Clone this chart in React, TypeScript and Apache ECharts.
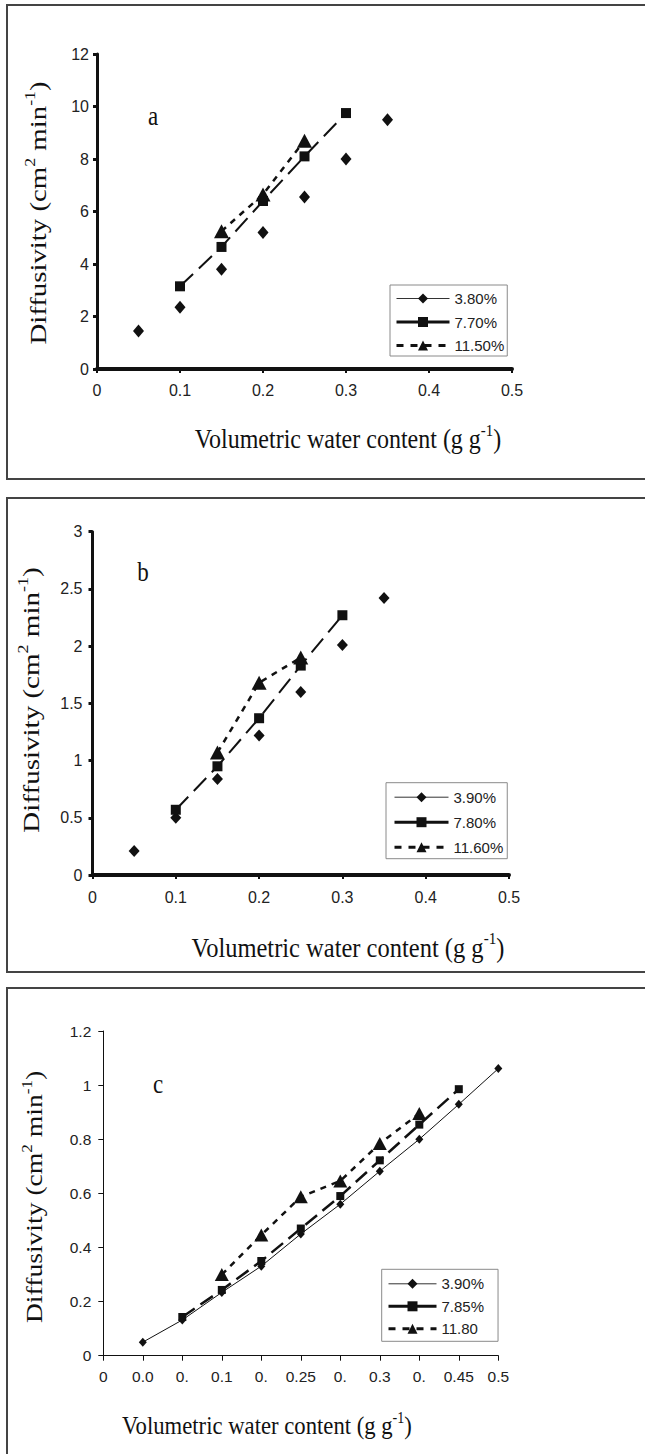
import React, { useEffect, useRef } from 'react';
import * as echarts from 'echarts';

// ---------- data ----------
// Panel a
const xA1 = [0.05, 0.1, 0.15, 0.2, 0.25, 0.3, 0.35];
const yA1 = [1.45, 2.35, 3.8, 5.2, 6.55, 8.0, 9.5];
const xA2 = [0.1, 0.15, 0.2, 0.25, 0.3];
const yA2 = [3.15, 4.65, 6.4, 8.1, 9.75];
const xA3 = [0.15, 0.2, 0.25];
const yA3 = [5.25, 6.65, 8.7];
const namesA = ['3.80%', '7.70%', '11.50%'];

// Panel b
const xB1 = [0.05, 0.1, 0.15, 0.2, 0.25, 0.3, 0.35];
const yB1 = [0.21, 0.5, 0.84, 1.22, 1.6, 2.01, 2.42];
const xB2 = [0.1, 0.15, 0.2, 0.25, 0.3];
const yB2 = [0.57, 0.95, 1.37, 1.83, 2.27];
const xB3 = [0.15, 0.2, 0.25];
const yB3 = [1.07, 1.68, 1.9];
const namesB = ['3.90%', '7.80%', '11.60%'];

// Panel c
const xC1 = [0.05, 0.1, 0.15, 0.2, 0.25, 0.3, 0.35, 0.4, 0.45, 0.5];
const yC1 = [0.05, 0.132, 0.234, 0.331, 0.45, 0.56, 0.682, 0.8, 0.929, 1.061];
const xC2 = [0.1, 0.15, 0.2, 0.25, 0.3, 0.35, 0.4, 0.45];
const yC2 = [0.143, 0.243, 0.35, 0.47, 0.59, 0.722, 0.854, 0.985];
const xC3 = [0.15, 0.2, 0.25, 0.3, 0.35, 0.4];
const yC3 = [0.3, 0.446, 0.587, 0.646, 0.784, 0.895];
const namesC = ['3.90%', '7.85%', '11.80'];
const xTickLabelsC = ['0', '0.0', '0.', '0.1', '0.', '0.25', '0.', '0.3', '0.', '0.45', '0.5'];

// ---------- styles ----------
const SANS = '"Liberation Sans", Arial, Helvetica, sans-serif';
const SERIF = '"Liberation Serif", "Times New Roman", serif';
const INK = '#111';

function pairs(xs: number[], ys: number[]) {
  return xs.map((x, i) => [x, ys[i]]);
}

function series(id: string, xs: number[], ys: number[], gi: number, symbol: string, size: any, lineStyle: any, z: number) {
  return {
    type: 'line',
    name: id,
    xAxisIndex: gi,
    yAxisIndex: gi,
    data: pairs(xs, ys),
    symbol,
    symbolSize: size,
    showSymbol: true,
    showAllSymbol: true,
    clip: false,
    z,
    itemStyle: { color: INK, opacity: 1 },
    lineStyle: { color: INK, ...lineStyle },
    emphasis: { disabled: true },
  };
}

function xAxis(gi: number, interval: number, thick: boolean, fontSize: number, margin: number, formatter?: any) {
  return {
    type: 'value',
    gridIndex: gi,
    min: 0,
    max: 0.5,
    interval,
    axisLine: { show: true, onZero: false, lineStyle: { color: INK, width: thick ? 4 : 1 } },
    axisTick: { show: true, inside: false, length: thick ? 4 : 5, lineStyle: { color: INK, width: thick ? 2 : 1 } },
    axisLabel: {
      show: true, margin, fontSize, color: '#222', fontFamily: SANS,
      showMinLabel: true, showMaxLabel: true,
      ...(formatter ? { formatter } : {}),
    },
    splitLine: { show: false },
  };
}

function yAxis(gi: number, max: number, interval: number, thick: boolean, fontSize: number, margin: number) {
  return {
    type: 'value',
    gridIndex: gi,
    min: 0,
    max,
    interval,
    axisLine: { show: true, onZero: false, lineStyle: { color: INK, width: thick ? 3 : 1 } },
    axisTick: { show: true, inside: false, length: thick ? 4 : 5, lineStyle: { color: INK, width: thick ? 3 : 1 } },
    axisLabel: { show: true, margin, fontSize, color: '#222', fontFamily: SANS, showMinLabel: true, showMaxLabel: true },
    splitLine: { show: false },
  };
}

function legend(prefix: string, names: string[], left: number, top: number, padding: number[], itemGap: number, itemWidth: number, fontSize: number) {
  return {
    show: true,
    orient: 'vertical',
    left,
    top,
    padding,
    itemGap,
    itemWidth,
    itemHeight: 12.5,
    borderColor: '#8a8a8a',
    borderWidth: 1,
    backgroundColor: '#fff',
    selectedMode: false,
    textStyle: { fontSize, color: '#222', fontFamily: SANS },
    formatter: (n: string) => n.split('|')[1],
    data: [
      { name: prefix + '|' + names[0], lineStyle: { opacity: 1, width: 1, type: 'solid', color: '#333' } },
      { name: prefix + '|' + names[1], lineStyle: { type: 'solid', width: 3 } },
      { name: prefix + '|' + names[2], lineStyle: { type: [7, 7], width: 3 } },
    ],
  };
}

const yLabelText = '{n|Diffusivity (cm}{s|2}{n| min}{s|-1}{n|)}';
const xLabelText = '{n|Volumetric water content (g g}{s|-1}{n|)}';
function rich(fs: number) {
  return {
    n: { fontSize: fs, fontFamily: SERIF, color: INK, lineHeight: fs * 1.25, verticalAlign: 'middle' },
    s: { fontSize: fs * 0.62, fontFamily: SERIF, color: INK, lineHeight: fs * 0.7, verticalAlign: 'top' },
  };
}

function yLabel(x: number, y: number, fs: number, sx: number) {
  return {
    type: 'text', x, y, rotation: Math.PI / 2, scaleX: sx, scaleY: 1, z: 10,
    style: { text: yLabelText, rich: rich(fs), align: 'center', verticalAlign: 'middle', fill: INK },
  };
}
function xLabel(x: number, y: number, fs: number, sy: number) {
  return {
    type: 'text', x, y, scaleX: 1, scaleY: sy, z: 10,
    style: { text: xLabelText, rich: rich(fs), align: 'center', verticalAlign: 'middle', fill: INK },
  };
}
function letter(t: string, x: number, y: number) {
  return {
    type: 'text', x, y, scaleY: 1.15, z: 10,
    style: { text: t, fontSize: 23, fontFamily: SERIF, fill: INK, align: 'center', verticalAlign: 'middle' },
  };
}
function box(y: number, h: number) {
  return {
    type: 'rect', z: 0,
    shape: { x: 7, y, width: 700, height: h },
    style: { fill: 'none', stroke: '#444', lineWidth: 2 },
  };
}

export default function App() {
  const ref = useRef<HTMLDivElement>(null);
  useEffect(() => {
    document.body.style.margin = '0';
    const chart = echarts.init(ref.current!, undefined, { renderer: 'svg' });
    const dashLong = [18, 8];
    const dashShort = [6, 6];
    const option: any = {
      animation: false,
      backgroundColor: '#fff',
      grid: [
        { left: 97, top: 54, width: 415, height: 315 },
        { left: 92.5, top: 531.7, width: 416.5, height: 343.3 },
        { left: 103.3, top: 1031, width: 395, height: 324.7 },
      ],
      xAxis: [
        xAxis(0, 0.1, true, 16, 13),
        xAxis(1, 0.1, true, 16, 14),
        xAxis(2, 0.05, false, 15.5, 13, (v: number) => xTickLabelsC[Math.round(v / 0.05)] ?? ''),
      ],
      yAxis: [
        yAxis(0, 12, 2, true, 16, 8),
        yAxis(1, 3, 0.5, true, 16, 10),
        yAxis(2, 1.2, 0.2, false, 15.5, 12),
      ],
      legend: [
        legend('a', namesA, 390, 285, [6, 3, 3, 5], 8.5, 53, 15),
        legend('b', namesB, 386, 782.7, [7, 4, 4, 7], 10, 54, 15),
        legend('c', namesC, 381.7, 1269.3, [7, 14, 5, 5.3], 7.5, 48, 15),
      ],
      series: [
        series('a|' + namesA[0], xA1, yA1, 0, 'diamond', [11, 13], { width: 0, opacity: 0 }, 3),
        series('a|' + namesA[1], xA2, yA2, 0, 'rect', [10, 10], { width: 2, type: dashLong }, 4),
        series('a|' + namesA[2], xA3, yA3, 0, 'triangle', [15, 14], { width: 2.5, type: dashShort }, 5),
        series('b|' + namesB[0], xB1, yB1, 1, 'diamond', [11, 12], { width: 0, opacity: 0 }, 3),
        series('b|' + namesB[1], xB2, yB2, 1, 'rect', [10, 10], { width: 2, type: dashLong }, 4),
        series('b|' + namesB[2], xB3, yB3, 1, 'triangle', [15, 14], { width: 2.5, type: dashShort }, 5),
        series('c|' + namesC[0], xC1, yC1, 2, 'diamond', [8, 9], { width: 1 }, 3),
        series('c|' + namesC[1], xC2, yC2, 2, 'rect', [8, 8], { width: 2.5, type: [15, 7] }, 4),
        series('c|' + namesC[2], xC3, yC3, 2, 'triangle', [14, 13], { width: 2.5, type: dashShort }, 5),
      ],
      graphic: [
        box(5, 474),
        box(498, 474),
        box(988, 520),
        yLabel(38, 213, 24, 1.2),
        yLabel(31, 700, 24, 1.21),
        yLabel(34, 1197, 23, 1.2),
        xLabel(348, 439, 24, 1.15),
        xLabel(348, 947, 24.5, 1.15),
        xLabel(267, 1425, 22.7, 1.15),
        letter('a', 153, 116),
        letter('b', 143, 572),
        letter('c', 158, 1084),
      ],
    };
    chart.setOption(option);
    return () => chart.dispose();
  }, []);
  return <div ref={ref} style={{ position: 'absolute', left: 0, top: 0, width: 645, height: 1454 }} />;
}
